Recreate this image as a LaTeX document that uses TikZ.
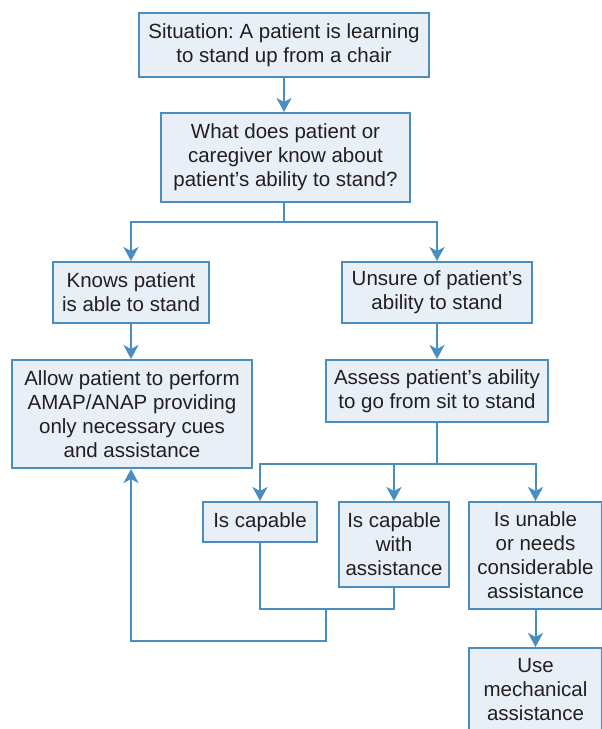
\documentclass[tikz,border=0pt]{standalone}
\usepackage{fontspec}
\setmainfont{Liberation Sans}
\usetikzlibrary{arrows.meta}
\definecolor{bblue}{RGB}{74,141,193}
\definecolor{bfill}{RGB}{233,239,246}
\definecolor{btext}{RGB}{35,31,32}
\tikzset{
  box/.style={draw=bblue, fill=bfill, line width=2pt, inner sep=0pt, align=center,
    text=btext, font=\fontsize{20.5pt}{24pt}\selectfont},
  conn/.style={draw=bblue, line width=2pt},
  arr/.style={conn, -{Stealth[length=14pt,width=15pt,inset=4pt]}}
}
\frenchspacing
\begin{document}
\begin{tikzpicture}[x=1pt,y=-1pt]
\useasboundingbox (0,0) rectangle (602,729);
\node[box, minimum width=290pt, minimum height=64pt] (s) at (284,45) {Situation: A patient is learning\\to stand up from a chair};
\node[box, minimum width=249pt, minimum height=89pt] (q) at (285.5,157.5) {What does patient or\\caregiver know about\\patient’s ability to stand?};
\node[box, minimum width=156pt, minimum height=61pt] (k) at (131,292.5) {Knows patient\\is able to stand};
\node[box, minimum width=190pt, minimum height=61pt] (u) at (437,292.5) {Unsure of patient’s\\ability to stand};
\node[box, minimum width=240pt, minimum height=108pt] (a) at (132,414) {Allow patient to perform\\AMAP/ANAP providing\\only necessary cues\\and assistance};
\node[box, minimum width=222pt, minimum height=62pt] (as) at (437,391) {Assess patient’s ability\\to go from sit to stand};
\node[box, minimum width=114pt, minimum height=40pt] (c1) at (260,522) {Is capable};
\node[box, minimum width=110pt, minimum height=85pt] (c2) at (394,544.5) {Is capable\\with\\assistance};
\node[box, minimum width=133pt, minimum height=107pt] (c3) at (535.5,555.5) {Is unable\\or needs\\considerable\\assistance};
\node[box, minimum width=133pt, minimum height=83pt] (m) at (535.5,689.5) {Use\\mechanical\\assistance};
\coordinate (j1) at (284,222);
\coordinate (j2) at (437,464);
\coordinate (j3) at (326,609);
\coordinate (j4) at (326,641);
\draw[arr] (s.south) -- (s.south |- q.north);
\draw[conn] (s.south |- q.south) -- (j1);
\draw[arr] (j1) -| (k.north);
\draw[arr] (j1) -| (u.north);
\draw[arr] (k.south) -- (a.north -| k.south);
\draw[arr] (u.south) -- (as.north);
\draw[conn] (as.south) -- (j2);
\draw[arr] (j2) -| (c1.north);
\draw[arr] (j2) -| (c2.north);
\draw[arr] (j2) -| (c3.north);
\draw[arr] (c3.south) -- (m.north);
\draw[conn] (c1.south) -- (c1.south |- j3) -| (c2.south);
\draw[arr] (j3) -- (j4) -| (a.south -| k.south);
\end{tikzpicture}
\end{document}
